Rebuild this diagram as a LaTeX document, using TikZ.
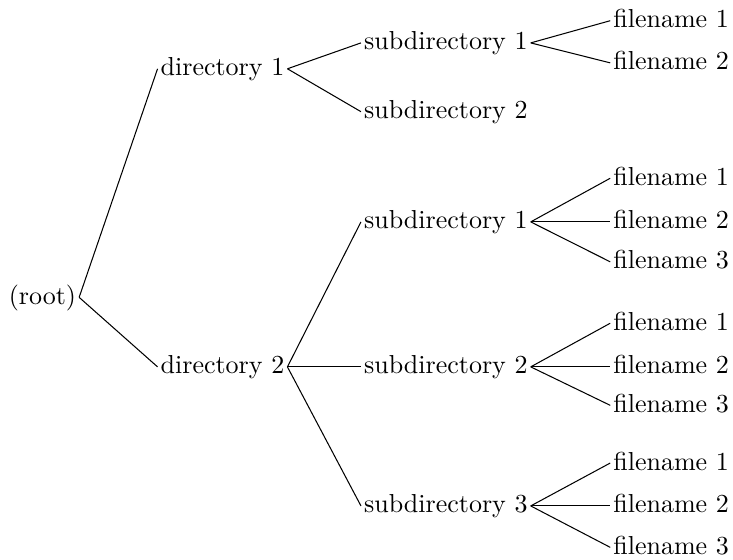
\documentclass[tikz,border=0pt]{standalone}
\usepackage{amsmath, amssymb}
\usepackage{tikz}
\usetikzlibrary{positioning}

\begin{document}
\begin{tikzpicture}[item/.style={inner sep=1pt, anchor=west, text height=1.5ex, text depth=.25ex}]
    \useasboundingbox (0,0) rectangle (9.91,-7.57);

    \node[item, anchor=east] (root) at (1.07,-4.02) {(root)};

    \node[item] (dir1) at (2.13,-0.93) {directory 1};
    \node[item] (dir2) at (2.13,-4.96) {directory 2};

    \node[item] (sub11) at (4.88,-0.58) {subdirectory 1};
    \node[item] (sub12) at (4.88,-1.51) {subdirectory 2};
    \node[item] (sub21) at (4.88,-3.00) {subdirectory 1};
    \node[item] (sub22) at (4.88,-4.96) {subdirectory 2};
    \node[item] (sub23) at (4.88,-6.84) {subdirectory 3};

    \node[item] (f111) at (8.25,-0.28) {filename 1};
    \node[item] (f112) at (8.25,-0.85) {filename 2};

    \node[item] (f211) at (8.25,-2.41) {filename 1};
    \node[item] (f212) at (8.25,-3.00) {filename 2};
    \node[item] (f213) at (8.25,-3.54) {filename 3};

    \node[item] (f221) at (8.25,-4.37) {filename 1};
    \node[item] (f222) at (8.25,-4.96) {filename 2};
    \node[item] (f223) at (8.25,-5.48) {filename 3};

    \node[item] (f231) at (8.25,-6.26) {filename 1};
    \node[item] (f232) at (8.25,-6.84) {filename 2};
    \node[item] (f233) at (8.25,-7.40) {filename 3};

    % edges
    \draw (root.east) -- (dir1.west);
    \draw (root.east) -- (dir2.west);
    \draw (dir1.east) -- (sub11.west);
    \draw (dir1.east) -- (sub12.west);
    \draw (dir2.east) -- (sub21.west);
    \draw (dir2.east) -- (sub22.west);
    \draw (dir2.east) -- (sub23.west);
    \draw (sub11.east) -- (f111.west);
    \draw (sub11.east) -- (f112.west);
    \draw (sub21.east) -- (f211.west);
    \draw (sub21.east) -- (f212.west);
    \draw (sub21.east) -- (f213.west);
    \draw (sub22.east) -- (f221.west);
    \draw (sub22.east) -- (f222.west);
    \draw (sub22.east) -- (f223.west);
    \draw (sub23.east) -- (f231.west);
    \draw (sub23.east) -- (f232.west);
    \draw (sub23.east) -- (f233.west);
\end{tikzpicture}
\end{document}
